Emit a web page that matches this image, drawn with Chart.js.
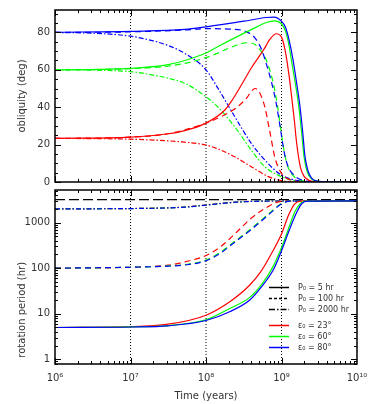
<!DOCTYPE html>
<html>
<head>
<meta charset="utf-8">
<script src="https://cdn.jsdelivr.net/npm/chart.js@4.4.1/dist/chart.umd.min.js"></script>
<style>
  html, body { margin: 0; padding: 0; background: #fff; }
  #wrap { position: relative; width: 374px; height: 404px; }
  canvas { position: absolute; left: 0; }
  #top { top: 0; }
  #bottom { top: 186px; }
</style>
</head>
<body>
<div id="wrap">
  <canvas id="top" width="374" height="186"></canvas>
  <canvas id="bottom" width="374" height="218"></canvas>
</div>
<script>
// time axis: decades shown, dotted reference lines
const timeDecades = [6, 7, 8, 9, 10];
const markerYears = [1e7, 1e8, 1e9];
const oblTicks = [0, 20, 40, 60, 80];
const periodTicks = [1, 10, 100, 1000];
const equilibriumPeriod = 3200; // black dashed line (hr)

// obliquity (deg) vs log10(time / yr)
const obl5hr23 = [[6,23.3],[7,24],[7.5,25.8],[7.72,27.5],[8,31.5],[8.25,38.5],[8.35,44],[8.47,52],[8.6,61],[8.76,70.5],[8.85,76.5],[8.93,79.3],[9.0,77.5],[9.05,70],[9.1,57],[9.13,47],[9.17,33],[9.2,21],[9.25,8],[9.3,3],[9.37,0.8],[9.5,0.1],[10,0]];
const obl5hr60 = [[6,60],[7,60.8],[7.5,62.8],[7.72,65],[8,69],[8.16,72.5],[8.4,77.5],[8.6,81.5],[8.8,85.3],[8.91,86.2],[9.0,84.5],[9.05,81],[9.1,73],[9.14,63],[9.19,51],[9.23,40],[9.27,25],[9.3,13],[9.34,5.5],[9.39,2],[9.47,0.5],[9.6,0.05],[10,0]];
const obl5hr80 = [[6,80.1],[7,80.6],[7.72,81.6],[8,83],[8.5,86],[8.8,88],[8.9,88.2],[9.0,86],[9.05,83],[9.1,76],[9.15,66],[9.2,53],[9.24,42],[9.28,27],[9.31,14],[9.35,6],[9.4,2],[9.48,0.5],[9.6,0.05],[10,0]];
const obl100hr23 = [[6,23.3],[7,24],[7.5,25.8],[8,31.5],[8.2,35],[8.36,38.5],[8.54,45],[8.6,48.5],[8.65,50],[8.7,48.5],[8.75,44],[8.78,40],[8.85,26],[8.91,13.5],[9.0,4.6],[9.13,1],[9.3,0.1],[10,0]];
const obl100hr60 = [[6,60],[7,60.6],[7.5,62],[7.83,64.5],[8.1,68],[8.3,71.5],[8.45,73.8],[8.56,74.5],[8.65,73.5],[8.72,70.5],[8.8,65],[8.89,53],[8.95,40],[9.02,20],[9.07,10],[9.13,4.6],[9.25,1],[9.4,0.2],[10,0]];
const obl100hr80 = [[6,80],[7,80.3],[7.72,81.3],[8,82],[8.3,81.8],[8.54,80.3],[8.65,77],[8.74,70.5],[8.8,63],[8.87,53],[8.93,42],[8.98,30],[9.04,15],[9.09,8],[9.17,3.5],[9.26,1.2],[9.4,0.2],[10,0]];
const obl2000hr23 = [[6,23.3],[6.5,23.2],[7,22.9],[7.5,22],[7.72,21.3],[8,19.8],[8.2,17],[8.38,13.5],[8.6,8.2],[8.82,3],[9.0,0.7],[9.3,0],[10,0]];
const obl2000hr60 = [[6,60],[6.5,59.8],[7,59],[7.3,57.2],[7.5,55.5],[7.72,52.8],[8,45.6],[8.16,40],[8.38,29.6],[8.6,17],[8.78,8.2],[9.0,2.8],[9.2,0.6],[9.5,0],[10,0]];
const obl2000hr80 = [[6,80],[6.5,79.6],[7,78],[7.3,75.5],[7.5,73],[7.72,68.8],[8,60],[8.16,50],[8.38,35],[8.6,20.7],[8.82,10],[9.0,3.7],[9.26,0.5],[9.5,0],[10,0]];

// rotation period (hr) vs log10(time / yr)
const per5hr23 = [[6,5.0],[7,5.2],[7.5,5.9],[8,9.3],[8.32,18.6],[8.58,42.7],[8.74,91],[8.86,200],[9.0,562],[9.09,1410],[9.17,2510],[9.25,2950],[9.4,2985],[10,2990]];
const per5hr60 = [[6,5.0],[7,5.15],[7.5,5.5],[8,7.4],[8.32,13.2],[8.58,22.9],[8.74,44.7],[8.87,95.5],[9.0,282],[9.1,794],[9.18,1778],[9.25,2630],[9.32,2950],[10,2990]];
const per5hr80 = [[6,5.0],[7,5.13],[7.5,5.43],[8,7.1],[8.32,11.2],[8.58,20],[8.74,39.8],[8.89,91],[9.0,240],[9.1,661],[9.2,1660],[9.27,2630],[9.35,2950],[10,2990]];
const per100hr23 = [[6,100],[7,105],[7.5,117],[7.72,138],[8,190],[8.2,302],[8.38,562],[8.6,1259],[8.82,2239],[8.95,2818],[9.1,2985],[10,2990]];
const per100hr60 = [[6,100],[7,105],[7.5,112],[7.72,120],[8,151],[8.2,229],[8.38,389],[8.6,741],[8.82,1514],[9.0,2630],[9.1,2950],[10,2990]];
const per100hr80 = [[6,100],[7,105],[7.5,111],[7.72,117.5],[8,146],[8.2,219],[8.38,372],[8.6,708],[8.82,1445],[9.0,2570],[9.12,2950],[10,2990]];
const per2000hr23 = [[6,2000],[7,2040],[7.5,2115],[7.72,2200],[8,2450],[8.2,2650],[8.4,2830],[8.6,2930],[8.9,2985],[10,2990]];
const per2000hr60 = [[6,2000],[7,2035],[7.5,2110],[7.72,2190],[8,2430],[8.2,2630],[8.4,2820],[8.6,2920],[8.9,2985],[10,2990]];
const per2000hr80 = [[6,2000],[7,2035],[7.5,2105],[7.72,2185],[8,2420],[8.2,2620],[8.4,2815],[8.6,2915],[8.9,2985],[10,2990]];

const colors = { 23: '#ff0000', 60: '#00ff00', 80: '#0000ff' };
const dashes = { 5: [], 100: [6, 4], 2000: [5, 2, 1.5, 2] };
const font = { family: 'DejaVu Sans', size: 10 };
const textColor = '#333';

const pts = arr => arr.map(([lt, v]) => ({ x: 10 ** lt, y: v }));

function curve(p0, eps, arr) {
  return {
    data: pts(arr),
    borderColor: colors[eps],
    borderDash: dashes[p0],
    borderWidth: 1.2,
    pointRadius: 0,
    fill: false,
    cubicInterpolationMode: 'monotone'
  };
}

function markers(ymin, ymax) {
  return markerYears.map(t => ({
    data: [{ x: t, y: ymin }, { x: t, y: ymax }],
    borderColor: '#000',
    borderDash: [1, 2],
    borderWidth: 1,
    pointRadius: 0,
    tension: 0
  }));
}

const sup = { '0': '⁰', '1': '¹', '6': '⁶', '7': '⁷', '8': '⁸', '9': '⁹' };
const decadeLabel = v => '10' + String(Math.round(Math.log10(v))).split('').map(c => sup[c]).join('');

// inward ticks on all four sides plus the box
const frameTicks = {
  id: 'frameTicks',
  afterDraw(chart, args, opts) {
    const { ctx, chartArea: a, scales } = chart;
    ctx.save();
    ctx.strokeStyle = '#000';
    ctx.lineWidth = 1;
    ctx.beginPath();
    for (let e = 6; e < 10; e++) {
      for (let m = 1; m <= 9; m++) {
        const px = Math.round(scales.x.getPixelForValue(m * 10 ** e)) + 0.5;
        const len = m === 1 ? 6 : 3;
        ctx.moveTo(px, a.bottom); ctx.lineTo(px, a.bottom - len);
        ctx.moveTo(px, a.top); ctx.lineTo(px, a.top + len);
      }
    }
    const yTick = (v, len) => {
      const py = Math.round(scales.y.getPixelForValue(v)) + 0.5;
      ctx.moveTo(a.left, py); ctx.lineTo(a.left + len, py);
      ctx.moveTo(a.right, py); ctx.lineTo(a.right - len, py);
    };
    opts.major.forEach(v => yTick(v, 6));
    opts.minor.forEach(v => yTick(v, 3));
    ctx.stroke();
    ctx.lineWidth = 1.5;
    ctx.strokeRect(a.left, a.top, a.right - a.left, a.bottom - a.top);
    ctx.restore();
  }
};

// legend inside the lower panel
const legendRows = [
  { text: 'P₀ = 5 hr', color: '#000', dash: [] },
  { text: 'P₀ = 100 hr', color: '#000', dash: [3, 2] },
  { text: 'P₀ = 2000 hr', color: '#000', dash: [6, 2, 1.5, 2] },
  { text: 'ε₀ = 23°', color: colors[23], dash: [] },
  { text: 'ε₀ = 60°', color: colors[60], dash: [] },
  { text: 'ε₀ = 80°', color: colors[80], dash: [] }
];
const legendOffsets = [-77, -66, -55, -39, -28, -17];

const insideLegend = {
  id: 'insideLegend',
  afterDraw(chart) {
    const { ctx, chartArea: a } = chart;
    ctx.save();
    ctx.font = '8px "DejaVu Sans"';
    ctx.textBaseline = 'middle';
    ctx.fillStyle = textColor;
    legendRows.forEach((r, i) => {
      const y = a.bottom + legendOffsets[i] + 0.5;
      ctx.strokeStyle = r.color;
      ctx.lineWidth = 1.5;
      ctx.setLineDash(r.dash);
      ctx.beginPath();
      ctx.moveTo(a.right - 88, y);
      ctx.lineTo(a.right - 68, y);
      ctx.stroke();
      ctx.fillText(r.text, a.right - 59, y);
    });
    ctx.restore();
  }
};

const oblMinor = [];
for (let v = 5; v <= 90; v += 5) if (v % 20) oblMinor.push(v);
const perMinor = [];
for (let e = -1; e <= 3; e++) for (let m = 2; m <= 9; m++) {
  const v = m * 10 ** e;
  if (v > 0.79 && v < 5200) perMinor.push(v);
}

const noPad = s => { s.paddingTop = 0; s.paddingBottom = 0; s.paddingLeft = 0; s.paddingRight = 0; };

const common = {
  responsive: false,
  animation: false,
  events: [],
  plugins: { legend: { display: false }, tooltip: { enabled: false } }
};

const xAxis = (show) => ({
  type: 'logarithmic',
  min: 1e6,
  max: 1e10,
  display: show,
  afterBuildTicks: s => { s.ticks = timeDecades.map(e => ({ value: 10 ** e })); },
  afterFit: s => { noPad(s); if (show) s.height = 40; },
  grid: { display: false, drawTicks: false },
  border: { display: false },
  ticks: { padding: 8, color: textColor, font, maxRotation: 0, callback: v => decadeLabel(v) },
  title: { display: show, text: 'Time (years)', color: textColor, font, padding: { top: 0, bottom: 2 } }
});

new Chart(document.getElementById('top'), {
  type: 'line',
  data: {
    datasets: [
      curve(5, 80, obl5hr80), curve(5, 60, obl5hr60), curve(5, 23, obl5hr23),
      curve(100, 80, obl100hr80), curve(100, 60, obl100hr60), curve(100, 23, obl100hr23),
      curve(2000, 80, obl2000hr80), curve(2000, 60, obl2000hr60), curve(2000, 23, obl2000hr23),
      ...markers(0, 92)
    ]
  },
  options: {
    ...common,
    layout: { padding: { left: 0, right: 17, top: 10, bottom: 4 } },
    plugins: { ...common.plugins, frameTicks: { major: oblTicks, minor: oblMinor } },
    scales: {
      x: xAxis(false),
      y: {
        type: 'linear',
        min: 0,
        max: 92,
        afterBuildTicks: s => { s.ticks = oblTicks.map(v => ({ value: v })); },
        afterFit: s => { noPad(s); s.width = 55; },
        grid: { display: false, drawTicks: false },
        border: { display: false },
        ticks: { padding: 5, color: textColor, font },
        title: { display: true, text: 'obliquity (deg)', color: textColor, font, padding: { top: 16, bottom: 0 } }
      }
    }
  },
  plugins: [frameTicks]
});

new Chart(document.getElementById('bottom'), {
  type: 'line',
  data: {
    datasets: [
      curve(5, 80, per5hr80), curve(5, 60, per5hr60), curve(5, 23, per5hr23),
      curve(100, 80, per100hr80), curve(100, 60, per100hr60), curve(100, 23, per100hr23),
      curve(2000, 80, per2000hr80), curve(2000, 60, per2000hr60), curve(2000, 23, per2000hr23),
      {
        data: [{ x: 1e6, y: equilibriumPeriod }, { x: 1e10, y: equilibriumPeriod }],
        borderColor: '#000', borderDash: [10, 4], borderWidth: 1.2, pointRadius: 0, tension: 0
      },
      ...markers(0.79, 5200)
    ]
  },
  options: {
    ...common,
    layout: { padding: { left: 0, right: 17, top: 4, bottom: 0 } },
    plugins: { ...common.plugins, frameTicks: { major: periodTicks, minor: perMinor } },
    scales: {
      x: xAxis(true),
      y: {
        type: 'logarithmic',
        min: 0.79,
        max: 5200,
        afterBuildTicks: s => { s.ticks = periodTicks.map(v => ({ value: v })); },
        afterFit: s => { noPad(s); s.width = 55; },
        grid: { display: false, drawTicks: false },
        border: { display: false },
        ticks: { padding: 5, color: textColor, font, callback: v => String(v) },
        title: { display: true, text: '  rotation period (hr)', align: 'start', color: textColor, font, padding: { top: 16, bottom: 0 } }
      }
    }
  },
  plugins: [frameTicks, insideLegend]
});
</script>
</body>
</html>
